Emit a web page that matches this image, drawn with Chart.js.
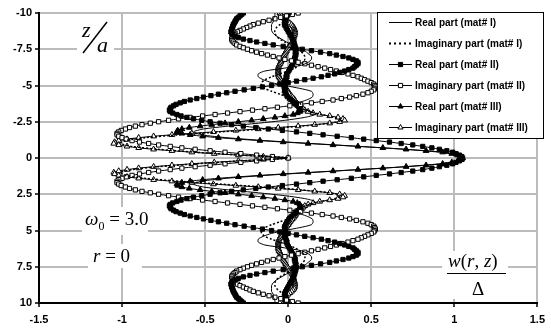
<!DOCTYPE html>
<html>
<head>
<meta charset="utf-8">
<script src="https://cdn.jsdelivr.net/npm/chart.js@4.4.0/dist/chart.umd.min.js"></script>
<style>
  body { margin: 0; background: #fff; }
  canvas { display: block; }
</style>
</head>
<body>
<canvas id="grafico" width="551" height="329"></canvas>
<script>
// valores leidos para z >= 0, la figura es simetrica en z
// mat# I sin marcas: paso 0.2
const zMedio = [0, 0.2, 0.4, 0.6, 0.8, 1, 1.2, 1.4, 1.6, 1.8, 2, 2.2, 2.4, 2.6, 2.8, 3, 3.2, 3.4, 3.6, 3.8,
  4, 4.2, 4.4, 4.6, 4.8, 5, 5.2, 5.4, 5.6, 5.8, 6, 6.2, 6.4, 6.6, 6.8, 7, 7.2, 7.4, 7.6, 7.8,
  8, 8.2, 8.4, 8.6, 8.8, 9, 9.2, 9.4, 9.6, 9.8, 10];
const realI = [1.05, 1.01, 0.91, 0.70, 0.43, 0.14, -0.14, -0.37, -0.52, -0.57, -0.51, -0.36, -0.18, -0.02, 0.10, 0.16, 0.14, 0.07, 0.03, 0.06,
  0.11, 0.145, 0.15, 0.14, 0.07, -0.02, -0.10, -0.15, -0.18, -0.18, -0.14, -0.02, 0.08, 0.12, 0.14, 0.14, 0.12, 0.10, 0.07, 0.03,
  -0.01, -0.04, -0.07, -0.09, -0.10, -0.10, -0.10, -0.09, -0.09, -0.08, -0.08];
const imagI = [0, -0.29, -0.56, -0.78, -0.94, -1.01, -0.98, -0.86, -0.66, -0.41, -0.15, 0.08, 0.25, 0.32, 0.28, 0.20, 0.13, 0.09, 0.08, 0.07,
  0.04, 0.00, -0.05, -0.10, -0.14, -0.16, -0.16, -0.14, -0.10, -0.05, 0.00, 0.04, 0.07, 0.09, 0.10, 0.10, 0.09, 0.07, 0.04, 0.01,
  -0.02, -0.05, -0.07, -0.08, -0.08, -0.07, -0.05, -0.03, -0.01, 0.01, 0.02];

// mat# II y III con marcas: paso 0.1
const zFino = [0, 0.1, 0.2, 0.3, 0.4, 0.5, 0.6, 0.7, 0.8, 0.9, 1, 1.1, 1.2, 1.3, 1.4, 1.5, 1.6, 1.7, 1.8, 1.9,
  2, 2.1, 2.2, 2.3, 2.4, 2.5, 2.6, 2.7, 2.8, 2.9, 3, 3.1, 3.2, 3.3, 3.4, 3.5, 3.6, 3.7, 3.8, 3.9,
  4, 4.1, 4.2, 4.3, 4.4, 4.5, 4.6, 4.7, 4.8, 4.9, 5, 5.1, 5.2, 5.3, 5.4, 5.5, 5.6, 5.7, 5.8, 5.9,
  6, 6.1, 6.2, 6.3, 6.4, 6.5, 6.6, 6.7, 6.8, 6.9, 7, 7.1, 7.2, 7.3, 7.4, 7.5, 7.6, 7.7, 7.8, 7.9,
  8, 8.1, 8.2, 8.3, 8.4, 8.5, 8.6, 8.7, 8.8, 8.9, 9, 9.1, 9.2, 9.3, 9.4, 9.5, 9.6, 9.7, 9.8, 9.9, 10];
const realII = [1.05, 1.045, 1.03, 1.01, 0.99, 0.955, 0.91, 0.865, 0.81, 0.75,
  0.68, 0.61, 0.53, 0.455, 0.38, 0.295, 0.21, 0.13, 0.05, -0.035,
  -0.12, -0.195, -0.27, -0.34, -0.41, -0.47, -0.52, -0.57, -0.61, -0.645,
  -0.67, -0.695, -0.71, -0.715, -0.71, -0.705, -0.69, -0.675, -0.65, -0.625,
  -0.59, -0.55, -0.51, -0.465, -0.42, -0.37, -0.32, -0.265, -0.21, -0.155,
  -0.10, -0.05, 0.00, 0.05, 0.10, 0.15, 0.20, 0.24, 0.28, 0.31,
  0.34, 0.365, 0.39, 0.40, 0.41, 0.42, 0.42, 0.41, 0.39, 0.365,
  0.33, 0.29, 0.25, 0.195, 0.14, 0.085, 0.03, -0.03, -0.09, -0.14,
  -0.19, -0.23, -0.27, -0.30, -0.32, -0.335, -0.34, -0.345, -0.34, -0.34,
  -0.335, -0.333, -0.33, -0.325, -0.32, -0.315, -0.31, -0.30, -0.29, -0.28, -0.27];
const imagII = [0, -0.095, -0.19, -0.285, -0.38, -0.47, -0.56, -0.64, -0.71, -0.78,
  -0.84, -0.895, -0.94, -0.975, -1.00, -1.02, -1.03, -1.03, -1.02, -1.005,
  -0.98, -0.955, -0.92, -0.88, -0.83, -0.78, -0.72, -0.66, -0.59, -0.515,
  -0.44, -0.365, -0.29, -0.215, -0.14, -0.065, 0.01, 0.075, 0.14, 0.205,
  0.27, 0.32, 0.37, 0.41, 0.45, 0.48, 0.50, 0.515, 0.52, 0.525,
  0.52, 0.515, 0.50, 0.48, 0.46, 0.44, 0.42, 0.39, 0.36, 0.325,
  0.29, 0.255, 0.22, 0.18, 0.14, 0.10, 0.06, 0.02, -0.02, -0.055,
  -0.09, -0.125, -0.16, -0.19, -0.22, -0.245, -0.27, -0.29, -0.31, -0.32,
  -0.33, -0.337, -0.34, -0.337, -0.33, -0.325, -0.32, -0.305, -0.29, -0.27,
  -0.25, -0.23, -0.21, -0.18, -0.15, -0.115, -0.08, -0.045, -0.01, 0.025, 0.06];
const realIII = [1.05, 1.043, 1.02, 0.985, 0.93, 0.83, 0.71, 0.57, 0.42, 0.27,
  0.12, -0.03, -0.17, -0.30, -0.42, -0.515, -0.59, -0.64, -0.67, -0.665,
  -0.64, -0.595, -0.53, -0.46, -0.38, -0.30, -0.22, -0.15, -0.08, -0.02,
  0.03, 0.055, 0.07, 0.073, 0.07, 0.067, 0.06, 0.05, 0.04, 0.03,
  0.02, 0.01, 0.00, -0.005, -0.01, -0.015, -0.02, -0.02, -0.02, -0.02,
  -0.02, -0.02, -0.02, -0.02, -0.02, -0.015, -0.01, -0.01, -0.01, -0.005,
  0.00, 0.005, 0.01, 0.015, 0.02, 0.025, 0.03, 0.035, 0.04, 0.04,
  0.04, 0.043, 0.045, 0.045, 0.045, 0.045, 0.045, 0.043, 0.04, 0.038,
  0.035, 0.033, 0.03, 0.025, 0.02, 0.015, 0.01, 0.005, 0.00, -0.005,
  -0.01, -0.015, -0.02, -0.02, -0.02, -0.018, -0.015, -0.013, -0.01, -0.005, 0.00];
const imagIII = [0, -0.15, -0.30, -0.445, -0.58, -0.70, -0.81, -0.90, -0.97, -1.02,
  -1.05, -1.045, -1.02, -0.97, -0.90, -0.81, -0.70, -0.58, -0.45, -0.315,
  -0.18, -0.06, 0.06, 0.16, 0.25, 0.31, 0.34, 0.33, 0.30, 0.25,
  0.19, 0.15, 0.12, 0.10, 0.09, 0.08, 0.07, 0.06, 0.05, 0.045,
  0.04, 0.033, 0.025, 0.018, 0.01, 0.005, 0.00, -0.008, -0.015, -0.02,
  -0.025, -0.03, -0.035, -0.04, -0.045, -0.05, -0.055, -0.058, -0.06, -0.06,
  -0.06, -0.06, -0.06, -0.058, -0.055, -0.05, -0.045, -0.043, -0.04, -0.035,
  -0.03, -0.025, -0.02, -0.015, -0.01, -0.005, 0.00, 0.008, 0.015, 0.02,
  0.025, 0.028, 0.03, 0.033, 0.035, 0.038, 0.04, 0.04, 0.04, 0.038,
  0.035, 0.028, 0.02, 0.01, 0.00, -0.01, -0.02, -0.03, -0.04, -0.045, -0.05];

const nombres = ['Real part (mat# I)', 'Imaginary part (mat# I)', 'Real part (mat# II)',
  'Imaginary part (mat# II)', 'Real part (mat# III)', 'Imaginary part (mat# III)'];
const ticksX = [-1.5, -1, -0.5, 0, 0.5, 1, 1.5];
const ticksY = [-10, -7.5, -5, -2.5, 0, 2.5, 5, 7.5, 10];

const serif = '"Liberation Serif", "Times New Roman", serif';
const sans = '"Liberation Sans", Arial, sans-serif';

// copia la mitad z>=0 a z<0
function puntos(zs, mitad) {
  let z = zs.slice(1).reverse().map(v => -v).concat(zs);
  let xs = mitad.slice(1).reverse().concat(mitad);
  return xs.map((x, i) => ({ x: x, y: z[i] }));
}

function serie(i, zs, valores, estilo, relleno, dash) {
  return {
    label: nombres[i],
    data: puntos(zs, valores),
    showLine: true,
    borderColor: '#000',
    borderWidth: dash ? 1.5 : 1,
    borderDash: dash || [],
    tension: 0.25,
    pointStyle: estilo || 'circle',
    pointRadius: estilo ? (estilo === 'triangle' ? 3.3 : 3) : 0,
    pointBackgroundColor: relleno || '#000',
    pointBorderColor: '#000',
    pointBorderWidth: 1
  };
}

function marca(ctx, estilo, x, y, r, relleno) {
  ctx.beginPath();
  if (estilo === 'rect') {
    let s = r * Math.SQRT1_2;
    ctx.rect(x - s, y - s, 2 * s, 2 * s);
  } else {
    ctx.moveTo(x, y - r);
    ctx.lineTo(x + r * 0.866, y + r * 0.5);
    ctx.lineTo(x - r * 0.866, y + r * 0.5);
    ctx.closePath();
  }
  ctx.fillStyle = relleno;
  ctx.fill();
  ctx.lineWidth = 1;
  ctx.strokeStyle = '#000';
  ctx.stroke();
}

// texto en partes: [texto, italica, tamaño, dy]
function partes(ctx, x, y, lista) {
  lista.forEach(p => {
    ctx.font = (p[1] ? 'italic ' : '') + p[2] + 'px ' + serif;
    ctx.fillText(p[0], x, y + (p[3] || 0));
    x += ctx.measureText(p[0]).width;
  });
}

const fondo = {
  id: 'fondo',
  beforeDraw(chart) {
    const ctx = chart.ctx;
    ctx.save();
    ctx.fillStyle = '#fff';
    ctx.fillRect(0, 0, chart.width, chart.height);
    ctx.restore();
  }
};

const rotulos = {
  id: 'rotulos',
  afterDraw(chart) {
    const ctx = chart.ctx;
    ctx.save();
    ctx.fillStyle = '#fff';
    ctx.fillRect(77, 19, 37, 36);
    ctx.fillRect(82, 207, 66, 28);
    ctx.fillRect(88, 244, 54, 24);
    ctx.fillRect(442, 251, 66, 48);
    ctx.fillStyle = '#000';
    ctx.textBaseline = 'alphabetic';

    // z/a
    ctx.font = 'italic 22px ' + serif;
    ctx.fillText('z', 82, 37);
    ctx.fillText('a', 97, 52);
    ctx.beginPath();
    ctx.lineWidth = 1.5;
    ctx.strokeStyle = '#000';
    ctx.moveTo(107, 22);
    ctx.lineTo(83, 53);
    ctx.stroke();

    // omega_0 = 3.0 y r = 0
    partes(ctx, 85, 225, [['ω', true, 19], ['0', false, 12, 5], [' = 3.0', false, 19]]);
    partes(ctx, 93, 262, [['r', true, 19], [' = 0', false, 19]]);

    // w(r,z) / Delta
    partes(ctx, 448, 267, [['w', true, 19], ['(', false, 19], ['r', true, 19], [', ', false, 19], ['z', true, 19], [')', false, 19]]);
    ctx.beginPath();
    ctx.lineWidth = 1;
    ctx.moveTo(447, 273.5);
    ctx.lineTo(506, 273.5);
    ctx.stroke();
    ctx.font = '19px ' + serif;
    ctx.textAlign = 'center';
    ctx.fillText('Δ', 478, 295);
    ctx.restore();
  }
};

const leyenda = {
  id: 'leyenda',
  afterDraw(chart) {
    const ctx = chart.ctx;
    ctx.save();
    ctx.fillStyle = '#fff';
    ctx.fillRect(377.5, 12.5, 166, 126);
    ctx.strokeStyle = '#000';
    ctx.lineWidth = 1;
    ctx.strokeRect(377.5, 12.5, 166, 126);
    chart.data.datasets.forEach((ds, i) => {
      let y = 22.5 + i * 21;
      ctx.beginPath();
      ctx.setLineDash(ds.borderDash.length ? [2, 3] : []);
      ctx.lineWidth = ds.borderDash.length ? 2 : 1;
      ctx.strokeStyle = '#000';
      ctx.moveTo(389, y);
      ctx.lineTo(412, y);
      ctx.stroke();
      ctx.setLineDash([]);
      if (ds.pointRadius > 0) marca(ctx, ds.pointStyle, 400.5, y, 3, ds.pointBackgroundColor);
      ctx.fillStyle = '#000';
      ctx.font = 'bold 10px ' + sans;
      ctx.textBaseline = 'middle';
      ctx.fillText(ds.label, 415, y + 0.5);
    });
    ctx.restore();
  }
};

window.onload = function () {
  const datasets = [
    serie(0, zMedio, realI, null, null, null),
    serie(1, zMedio, imagI, null, null, [2, 2]),
    serie(2, zFino, realII, 'rect', '#000', null),
    serie(3, zFino, imagII, 'rect', '#fff', null),
    serie(4, zFino, realIII, 'triangle', '#000', null),
    serie(5, zFino, imagIII, 'triangle', '#fff', null)
  ];

  const fuenteTicks = { family: sans, size: 11, weight: 'bold' };

  new Chart(document.getElementById('grafico'), {
    type: 'scatter',
    data: { datasets: datasets },
    options: {
      responsive: false,
      devicePixelRatio: 1,
      animation: false,
      layout: { padding: { top: 13, right: 10, left: 0, bottom: 0 } },
      plugins: { legend: { display: false }, tooltip: { enabled: false } },
      scales: {
        x: {
          type: 'linear',
          min: -1.5,
          max: 1.5,
          afterBuildTicks: s => { s.ticks = ticksX.map(v => ({ value: v })); },
          afterFit: s => { s.height = 26; },
          ticks: { color: '#000', font: fuenteTicks, padding: 6, maxRotation: 0, callback: v => String(v) },
          grid: { color: '#bcbcbc', lineWidth: 2, tickLength: 4, tickColor: '#000', tickWidth: 1.5 },
          border: { color: '#000', width: 2 }
        },
        y: {
          type: 'linear',
          min: -10,
          max: 10,
          reverse: true,
          afterBuildTicks: s => { s.ticks = ticksY.map(v => ({ value: v })); },
          afterFit: s => { s.width = 39; },
          ticks: { color: '#000', font: fuenteTicks, padding: 3, callback: v => String(v) },
          grid: { color: '#bcbcbc', lineWidth: 2, tickLength: 4, tickColor: '#000', tickWidth: 1.5 },
          border: { color: '#000', width: 2 }
        }
      }
    },
    plugins: [fondo, rotulos, leyenda]
  });
}
</script>
</body>
</html>
